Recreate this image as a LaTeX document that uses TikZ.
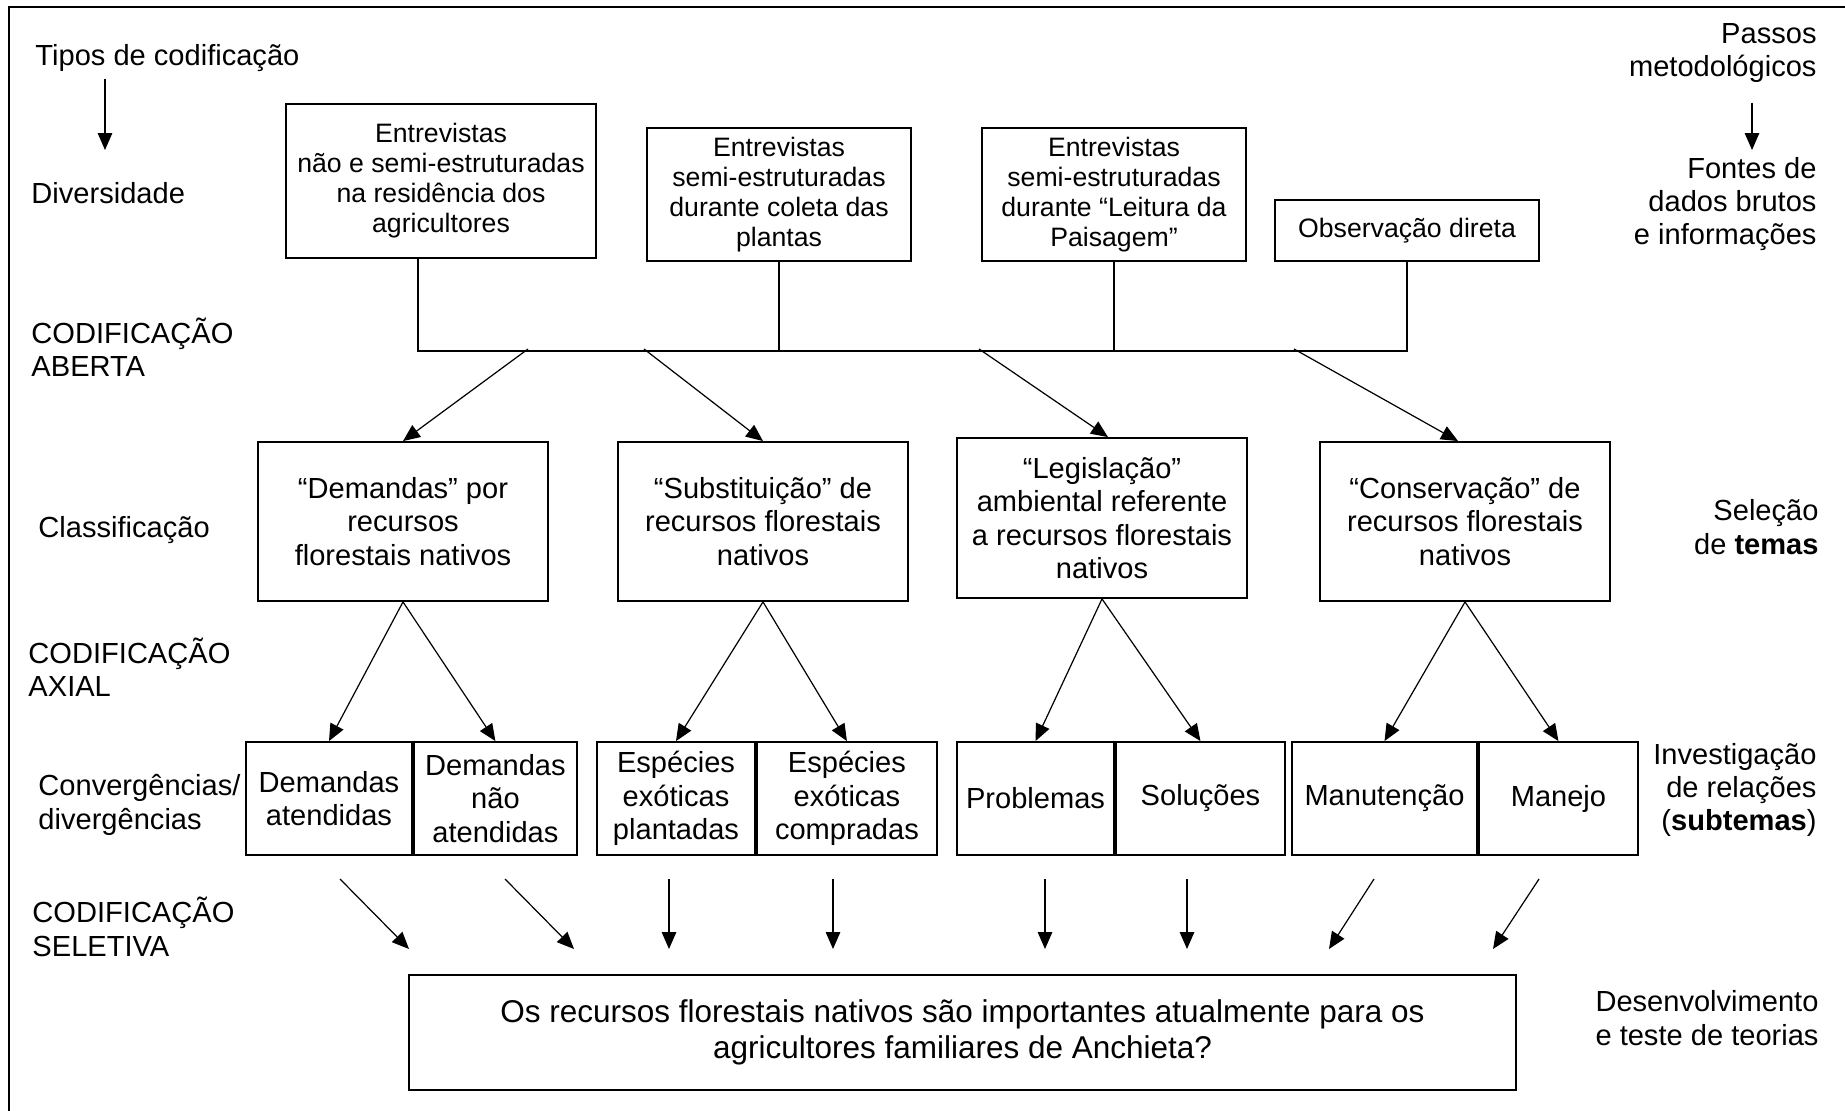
\documentclass[tikz,border=0pt]{standalone}
\usepackage{fontspec}
\setmainfont{Liberation Sans}
\usetikzlibrary{arrows.meta}
\tikzset{
	seta/.style={-{Triangle[length=7pt,width=6pt]}, line width=0.5pt},
	fio/.style={line width=0.6pt},
	caixa/.style={draw, line width=0.8pt, align=center, inner sep=1pt, font=\fontsize{12}{13.8}\selectfont},
	fonte/.style={caixa, font=\fontsize{11}{12.4}\selectfont},
	tema/.style={caixa, minimum width=119.7pt, minimum height=65.6pt},
	celula/.style={caixa, minimum height=46.6pt},
	rotulo/.style={align=left, anchor=west, inner sep=0pt, font=\fontsize{12}{13.8}\selectfont},
	rotulodir/.style={align=right, anchor=east, inner sep=0pt, font=\fontsize{12}{13.8}\selectfont},
}
\begin{document}
\begin{tikzpicture}[x=0.4128pt, y=-0.4128pt]
	\useasboundingbox (0,0) rectangle (1845,1111);
	\draw[line width=0.9pt] (9,1111) -- (9,7) -- (1845,7);

	\node[rotulo] (tipos) at (35,58) {Tipos de codificação};
	\node[rotulo] (divers) at (31,193) {Diversidade};
	\node[rotulo] (aberta) at (31,347) {CODIFICAÇÃO\\ABERTA};
	\node[rotulo] (classif) at (38,530) {Classificação};
	\node[rotulo] (axial) at (28,667) {CODIFICAÇÃO\\AXIAL};
	\node[rotulo] (converg) at (38,805) {Convergências/\\divergências};
	\node[rotulo] (seletiva) at (32,927) {CODIFICAÇÃO\\SELETIVA};

	\node[rotulodir] (passos) at (1817,53) {Passos\\metodológicos};
	\node[rotulodir] (fontes) at (1817,204) {Fontes de\\dados brutos\\e informações};
	\node[rotulodir] (selecao) at (1819,527) {Seleção\\de \textbf{temas}};
	\node[rotulodir] (investig) at (1817,790) {Investigação\\de relações\\(\textbf{subtemas})};
	\node[rotulodir, align=left] (desenv) at (1819,1018) {Desenvolvimento\\e teste de teorias};

	\coordinate (tiposA) at (105,79);
	\coordinate (tiposB) at (105,150);
	\draw[seta] (tiposA) -- (tiposB);
	\coordinate (passosA) at (1752,103);
	\coordinate (passosB) at (1752,150);
	\draw[seta] (passosA) -- (passosB);

	\node[fonte, minimum width=128pt, minimum height=63.6pt] (ent1) at (441,181) {Entrevistas\\não e semi-estruturadas\\na residência dos\\agricultores};
	\node[fonte, minimum width=109pt, minimum height=54.9pt] (ent2) at (779,194.5) {Entrevistas\\semi-estruturadas\\durante coleta das\\plantas};
	\node[fonte, minimum width=109pt, minimum height=54.9pt] (ent3) at (1114,194.5) {Entrevistas\\semi-estruturadas\\durante “Leitura da\\Paisagem”};
	\node[fonte, minimum width=109pt, minimum height=25.2pt] (obs) at (1407,230.5) {Observação direta};

	\coordinate (bus1) at (418,351);
	\coordinate (bus4) at (1407,351);
	\draw[fio] (ent1.south -| bus1) -- (bus1) -- (bus4) -- (obs.south);
	\draw[fio] (ent2.south) -- (ent2.south |- bus1);
	\draw[fio] (ent3.south) -- (ent3.south |- bus1);

	\node[tema] (tema1) at (403,521.5) {“Demandas” por\\recursos\\florestais nativos};
	\node[tema] (tema2) at (763,521.5) {“Substituição” de\\recursos florestais\\nativos};
	\node[tema, minimum height=66pt] (tema3) at (1102,518) {“Legislação”\\ambiental referente\\a recursos florestais\\nativos};
	\node[tema] (tema4) at (1465,521.5) {“Conservação” de\\recursos florestais\\nativos};

	\foreach \xb/\t/\d in {528/tema1/0, 644/tema2/0, 979/tema3/6, 1294/tema4/-7}
	{
		\coordinate (sai\t) at (\xb,349);
		\draw[seta] (sai\t) -- ([xshift=\d*0.4128pt]\t.north);
	}

	\node[celula, minimum width=68.5pt] (dem1) at (329,798.5) {Demandas\\atendidas};
	\node[celula, minimum width=67.3pt, anchor=west] (dem2) at (dem1.east) {Demandas\\não\\atendidas};
	\node[celula, minimum width=65.2pt] (esp1) at (676,798.5) {Espécies\\exóticas\\plantadas};
	\node[celula, minimum width=74.3pt, anchor=west] (esp2) at (esp1.east) {Espécies\\exóticas\\compradas};
	\node[celula, minimum width=64.8pt] (prob) at (1035.5,798.5) {Problemas};
	\node[celula, minimum width=69.8pt, anchor=west] (sol) at (prob.east) {Soluções};
	\node[celula, minimum width=76.4pt] (manut) at (1384.5,798.5) {Manutenção};
	\node[celula, minimum width=65.6pt, anchor=west] (manejo) at (manut.east) {Manejo};

	\foreach \t/\a/\b in {tema1/dem1/dem2, tema2/esp1/esp2, tema3/prob/sol, tema4/manut/manejo}
	{
		\draw[seta] (\t.south) -- (\a.north);
		\draw[seta] (\t.south) -- (\b.north);
	}

	\node[caixa, minimum width=457pt, minimum height=47.5pt, font=\fontsize{13}{15}\selectfont] (pergunta) at (962.5,1032.5) {Os recursos florestais nativos são importantes atualmente para os\\agricultores familiares de Anchieta?};

	\foreach \xa/\xb [count=\i] in {340/409, 505/574, 669/669, 833/833, 1045/1045, 1187/1187, 1374/1329, 1539/1493}
	{
		\coordinate (sel\i) at (\xa,879);
		\coordinate (alvo\i) at (\xb,949);
		\draw[seta] (sel\i) -- (alvo\i);
	}
\end{tikzpicture}
\end{document}
